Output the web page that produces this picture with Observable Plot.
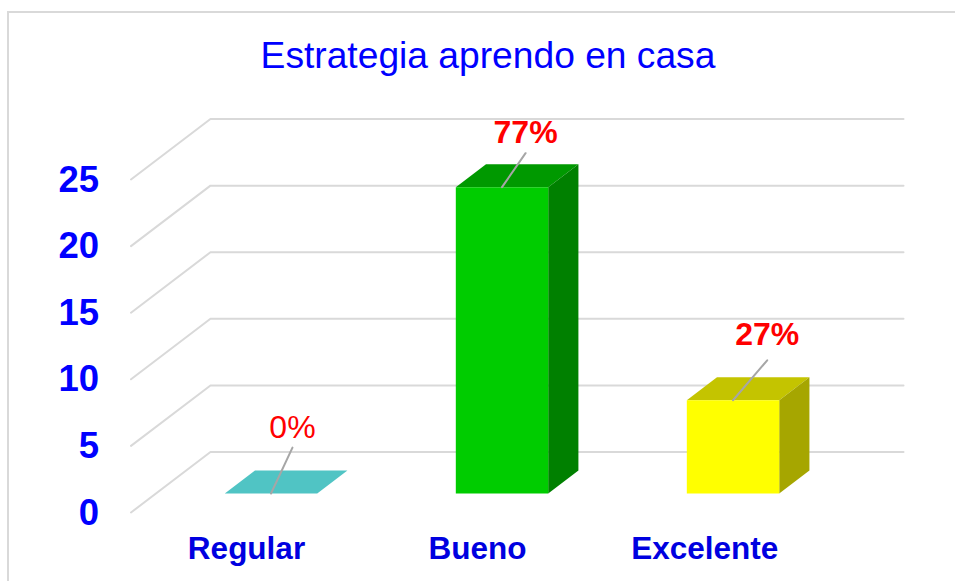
<!DOCTYPE html>
<html lang="es">
<head>
<meta charset="utf-8">
<script src="https://cdn.jsdelivr.net/npm/d3@7"></script>
<script src="https://cdn.jsdelivr.net/npm/@observablehq/plot@0.6"></script>
<style>
  html, body { margin: 0; padding: 0; background: #fff; overflow: hidden; }
  #page { position: relative; width: 955px; height: 581px; overflow: hidden; font-family: "Liberation Sans", Arial, sans-serif; }
  #frame { position: absolute; left: 7px; top: 11px; right: -10px; bottom: -10px; border: 2px solid #d9d9d9; }
  h1 { position: relative; margin: 0; height: 100px; box-sizing: border-box; padding-top: 34px; text-align: center; padding-left: 21px;
       font-size: 37.2px; line-height: 42px; font-weight: normal; color: #0000ff; }
  svg { position: relative; display: block; }
</style>
</head>
<body>
<div id="page">
  <div id="frame"></div>
  <h1>Estrategia aprendo en casa</h1>
  <div id="chart"></div>
</div>
<script>
const categories = ["Regular", "Bueno", "Excelente"];
const values = [0, 23, 7];
const percentLabels = ["0%", "77%", "27%"];
const yTicks = [0, 5, 10, 15, 20, 25];
const categoryTicks = [0.5, 1.5, 2.484];

// Oblique 3D layout, in the units of the x (category) and y (value) scales
const depthX = 0.344, depthY = 4.54;          // vector of the whole floor depth
const barFront = 0.314, barBack = 0.694;      // depth span of the bars
const barWidth = 0.4;
const barCentre = 0.498;
const xMax = 3 + depthX;
const yMax = 394 / 13.32;

const faceColors = [
  { front: "#50c4c4", top: "#50c4c4", side: "#50c4c4" },
  { front: "#00cc00", top: "#009900", side: "#008000" },
  { front: "#ffff00", top: "#c4c400", side: "#a6a600" }
];
// Leader end relative to the top of the bar's front face (x units, y units)
const leaderOffsets = [[0.093, 3.45], [0.102, 2.55], [0.148, 3.0]];
const labelLift = [1.5, 1.55, 1.95];

const P = (x, v, z) => ({ x: x + z * depthX, y: v + z * depthY });

const polys = { front: [], top: [], side: [] };
const leaders = [], labels = [];
categories.forEach((c, i) => {
  const l = i + barCentre - barWidth / 2, r = i + barCentre + barWidth / 2, v = values[i];
  const add = (name, pts) => polys[name].push({ key: c + name, color: faceColors[i][name], pts });
  if (v > 0) {
    add("front", [P(l, 0, barFront), P(r, 0, barFront), P(r, v, barFront), P(l, v, barFront)]);
    add("side", [P(r, 0, barFront), P(r, 0, barBack), P(r, v, barBack), P(r, v, barFront)]);
  }
  add("top", [P(l, v, barFront), P(r, v, barFront), P(r, v, barBack), P(l, v, barBack)]);
  const a = P(i + barCentre, v, barFront);
  const b = { x: a.x + leaderOffsets[i][0], y: a.y + leaderOffsets[i][1] };
  leaders.push({ key: c, ...a }, { key: c, ...b });
  labels.push({ x: b.x, y: b.y + labelLift[i], text: percentLabels[i], weight: i === 0 ? "normal" : "bold" });
});

const polyRows = ["top", "side", "front"].flatMap(n =>
  polys[n].flatMap(f => f.pts.map(p => ({ ...p, key: f.key, color: f.color }))));
const gridRows = yTicks.flatMap(t => [
  { key: t, ...P(0, t, 0) },
  { key: t, ...P(0, t, 1) },
  { key: t, ...P(xMax - depthX, t, 1) }
]);

const chart = Plot.plot({
  width: 955,
  height: 481,
  marginLeft: 130.5,
  marginRight: 52,
  marginTop: 18,
  marginBottom: 69,
  style: { fontFamily: "'Liberation Sans', Arial, sans-serif", background: "transparent", overflow: "visible" },
  x: { domain: [0, xMax], axis: null },
  y: { domain: [0, yMax], axis: null },
  color: { type: "identity" },
  marks: [
    Plot.line(gridRows, { x: "x", y: "y", z: "key", stroke: "#d9d9d9", strokeWidth: 2, curve: "linear" }),
    Plot.line(polyRows, { x: "x", y: "y", z: "key", fill: "color", stroke: "none", curve: "linear" }),
    Plot.line(leaders, { x: "x", y: "y", z: "key", stroke: "#a6a6a6", strokeWidth: 2, curve: "linear" }),
    Plot.text(labels.filter(d => d.weight === "normal"), { x: "x", y: "y", text: "text", fill: "#ff0000", fontSize: 32 }),
    Plot.text(labels.filter(d => d.weight === "bold"), { x: "x", y: "y", text: "text", fill: "#ff0000", fontSize: 32, fontWeight: "bold" }),
    Plot.axisY(yTicks, { anchor: "left", tickSize: 0, tickPadding: 32, dy: 0.5, fontSize: 36.5, fontWeight: "bold", fill: "#0000ff", label: null }),
    Plot.axisX(categoryTicks, {
      anchor: "bottom", tickSize: 0, tickPadding: 24, fontSize: 31.5, fontWeight: "bold", fill: "#0000e0", label: null,
      tickFormat: v => categories[Math.floor(v)]
    })
  ]
});
document.getElementById("chart").appendChild(chart);
</script>
</body>
</html>
